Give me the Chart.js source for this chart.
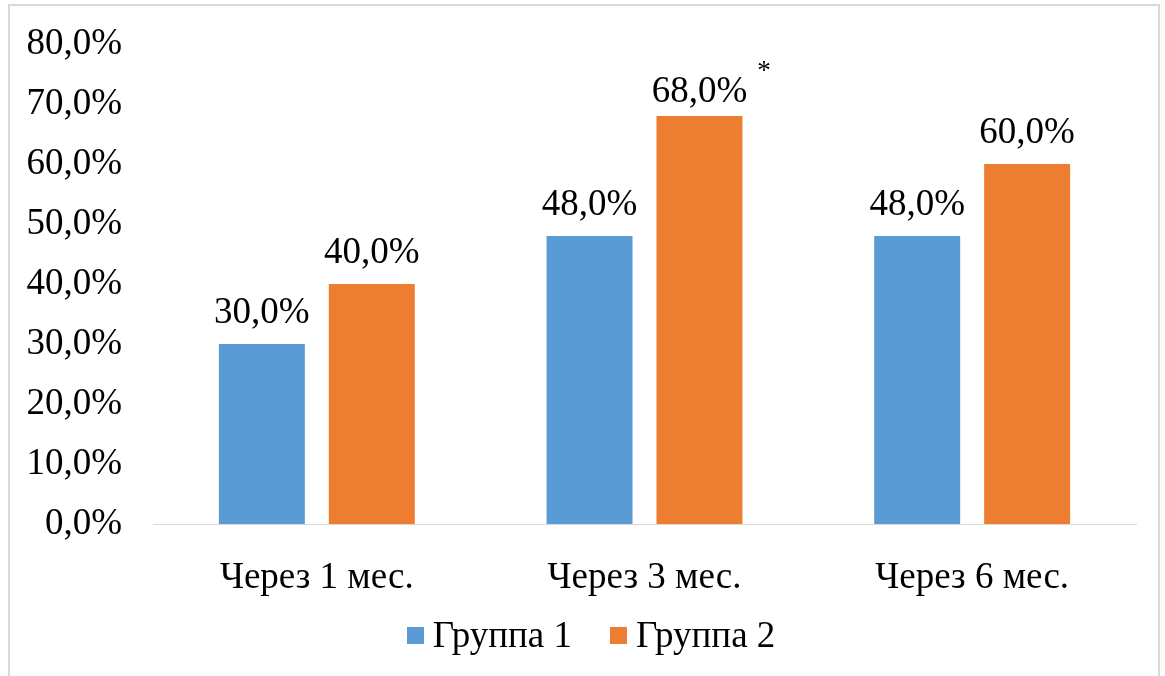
<!DOCTYPE html>
<html lang="ru">
<head>
<meta charset="utf-8">
<title>Группа 1 и Группа 2</title>
<script src="https://cdn.jsdelivr.net/npm/chart.js@4/dist/chart.umd.min.js"></script>
<style>
  html, body { margin: 0; padding: 0; background: #ffffff; }
  #wrap { position: relative; width: 1165px; height: 676px; overflow: hidden; }
  #frame { position: absolute; left: 8px; top: 4px; width: 1152px; height: 700px;
           border: 2px solid #d9d9d9; box-sizing: border-box; pointer-events: none; }
  canvas { position: absolute; left: 0; top: 0; }
</style>
</head>
<body>
<div id="wrap">
  <canvas id="chart" width="1165" height="676"></canvas>
  <div id="frame"></div>
</div>
<script>
// Periods after treatment
const categories = ['Через 1 мес.', 'Через 3 мес.', 'Через 6 мес.'];
// Share of patients, %
const group1 = [30.0, 48.0, 48.0];
const group2 = [40.0, 68.0, 60.0];
// Significance marks placed next to the Группа 2 labels
const group2Marks = ['', '*', ''];
const seriesNames = ['Группа 1', 'Группа 2'];
const seriesColors = ['#5b9bd5', '#ed7d31'];
const yTicks = [0, 10, 20, 30, 40, 50, 60, 70, 80];

const FONT = "'Liberation Serif', 'Times New Roman', serif";
const fmt = v => v.toFixed(1).replace('.', ',') + '%';

// Writes each bar's value above it, plus an optional mark
const valueLabels = {
  id: 'valueLabels',
  afterDatasetsDraw(chart) {
    const ctx = chart.ctx;
    ctx.save();
    ctx.fillStyle = '#000000';
    chart.data.datasets.forEach((ds, di) => {
      const meta = chart.getDatasetMeta(di);
      meta.data.forEach((bar, i) => {
        const text = fmt(ds.data[i]);
        ctx.font = '37px ' + FONT;
        ctx.textAlign = 'center';
        ctx.textBaseline = 'middle';
        // keep labels clear of the top edge of the plot
        const y = Math.max(bar.y - 31, chart.chartArea.top + 48);
        ctx.fillText(text, bar.x, y);
        const mark = ds.marks ? ds.marks[i] : '';
        if (mark) {
          const w = ctx.measureText(text).width;
          ctx.font = '27px ' + FONT;
          ctx.textAlign = 'left';
          ctx.fillText(mark, bar.x + w / 2 + 10, y - 20);
        }
      });
    });
    ctx.restore();
  }
};

// Legend row under the axis: coloured square followed by the series name
const legendRow = {
  id: 'legendRow',
  afterDraw(chart) {
    const ctx = chart.ctx;
    const box = 17, gapText = 9, gapItem = 38, cy = 636, cx = 591;
    ctx.save();
    ctx.font = '37px ' + FONT;
    ctx.textBaseline = 'middle';
    ctx.textAlign = 'left';
    const items = chart.data.datasets.map(ds => ({
      label: ds.label, color: ds.backgroundColor, w: ctx.measureText(ds.label).width
    }));
    const total = items.reduce((s, it) => s + box + gapText + it.w, 0) + gapItem * (items.length - 1);
    let x = cx - total / 2;
    items.forEach(it => {
      ctx.fillStyle = it.color;
      ctx.fillRect(Math.round(x), cy - 9, box, box);
      ctx.fillStyle = '#000000';
      ctx.fillText(it.label, x + box + gapText, cy + 1);
      x += box + gapText + it.w + gapItem;
    });
    ctx.restore();
  }
};

new Chart(document.getElementById('chart'), {
  type: 'bar',
  data: {
    labels: categories,
    datasets: [
      { label: seriesNames[0], data: group1, backgroundColor: seriesColors[0],
        categoryPercentage: 0.671, barPercentage: 0.782 },
      { label: seriesNames[1], data: group2, backgroundColor: seriesColors[1], marks: group2Marks,
        categoryPercentage: 0.671, barPercentage: 0.782 }
    ]
  },
  options: {
    responsive: false,
    animation: false,
    devicePixelRatio: 1,
    layout: { padding: { top: 44, right: 29, bottom: 62, left: 0 } },
    plugins: {
      tooltip: { enabled: false },
      legend: { display: false }
    },
    scales: {
      x: {
        grid: { display: false, drawTicks: false },
        border: { display: true, color: '#d9d9d9', width: 1 },
        ticks: { color: '#000000', font: { family: FONT, size: 37 }, padding: 32 },
        afterFit(scale) { scale.height = 90; }
      },
      y: {
        min: 0,
        max: 80,
        afterBuildTicks(scale) { scale.ticks = yTicks.map(v => ({ value: v })); },
        grid: { display: false, drawTicks: false },
        border: { display: false },
        ticks: { color: '#000000', font: { family: FONT, size: 37 }, padding: 31,
                 callback: v => fmt(v) },
        afterFit(scale) {
          scale.width = 153;
          scale.paddingTop = 0;
          scale.paddingBottom = 0;
        }
      }
    }
  },
  plugins: [valueLabels, legendRow]
});
</script>
</body>
</html>
